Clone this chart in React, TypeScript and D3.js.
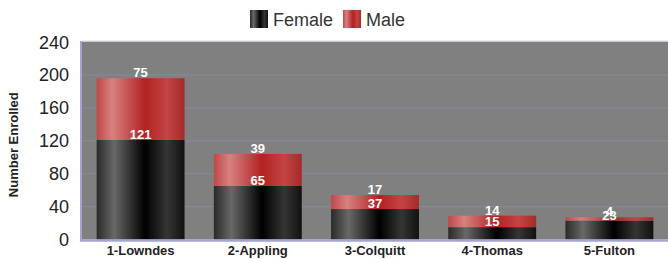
import React from "react";
import * as d3 from "d3";

const categories = ["1-Lowndes", "2-Appling", "3-Colquitt", "4-Thomas", "5-Fulton"];
const female = [121, 65, 37, 15, 23];
const male = [75, 39, 17, 14, 4];
const yTicks = [0, 40, 80, 120, 160, 200, 240];

export default function App() {
  const W = 668, H = 259;
  const left = 82, right = 668, top = 42, bottom = 239.5;
  const x = d3.scaleBand<string>().domain(categories).range([left, right]).paddingInner(0.25).paddingOuter(0.125);
  const y = d3.scaleLinear().domain([0, 240]).range([bottom, top]);
  const font = "Liberation Sans, Arial, sans-serif";
  return (
    <svg width={W} height={H} style={{ position: "absolute", left: 0, top: 0 }} fontFamily={font}>
      <defs>
        <linearGradient id="gF" x1="0" x2="1" y1="0" y2="0">
          <stop offset="0" stopColor="#2a2a2a" />
          <stop offset="0.2" stopColor="#686868" />
          <stop offset="0.55" stopColor="#000000" />
          <stop offset="0.8" stopColor="#353535" />
          <stop offset="1" stopColor="#111111" />
        </linearGradient>
        <linearGradient id="gM" x1="0" x2="1" y1="0" y2="0">
          <stop offset="0" stopColor="#c04848" />
          <stop offset="0.18" stopColor="#d88080" />
          <stop offset="0.55" stopColor="#b22222" />
          <stop offset="0.8" stopColor="#c44444" />
          <stop offset="1" stopColor="#a52a2a" />
        </linearGradient>
      </defs>
      <rect x={0} y={0} width={W} height={H} fill="#fff" />
      {/* legend */}
      <rect x={250} y={10} width={18} height={18} fill="url(#gF)" />
      <text x={273} y={26} fontSize={18} fill="#333">Female</text>
      <rect x={343} y={10} width={18} height={18} fill="url(#gM)" />
      <text x={366} y={26} fontSize={18} fill="#333">Male</text>
      {/* plot area */}
      <rect x={left} y={top - 1} width={right - left} height={bottom - top + 1} fill="#808080" />
      <line x1={left} x2={right} y1={top - 1} y2={top - 1} stroke="#e4e4ec" strokeWidth={1.5} />
      {yTicks.filter((t) => t > 0 && t < 240).map((t) => (
        <line key={t} x1={left} x2={right} y1={y(t)} y2={y(t)} stroke="#8a8a98" strokeWidth={1} />
      ))}
      {categories.map((c, i) => {
        const bx = x(c)!;
        const bw = x.bandwidth();
        const yf = y(female[i]);
        const yt = y(female[i] + male[i]);
        return (
          <g key={c}>
            <rect x={bx} y={yf} width={bw} height={bottom - yf} fill="url(#gF)" />
            <rect x={bx} y={yt} width={bw} height={yf - yt} fill="url(#gM)" />
            <text x={bx + bw / 2} y={yt - 1} textAnchor="middle" fontSize={13} fontWeight="bold" fill="#fff">{male[i]}</text>
            <text x={bx + bw / 2} y={yf - 1} textAnchor="middle" fontSize={13} fontWeight="bold" fill="#fff">{female[i]}</text>
            <text x={bx + bw / 2} y={255} textAnchor="middle" fontSize={13} fontWeight="bold" fill="#222">{c}</text>
          </g>
        );
      })}
      {/* axes */}
      <line x1={left - 1} x2={left - 1} y1={top - 1} y2={bottom + 1} stroke="#a4a4cc" strokeWidth={2} />
      <line x1={left - 2} x2={right} y1={bottom + 1} y2={bottom + 1} stroke="#a4a4cc" strokeWidth={2.5} />
      {yTicks.map((t) => (
        <text key={t} x={69} y={y(t) + 6.5} textAnchor="end" fontSize={18} fill="#222">{t}</text>
      ))}
      <text transform={`translate(18,${(top + bottom) / 2 + 4}) rotate(-90)`} textAnchor="middle" fontSize={13} fontWeight="bold" fill="#222">Number Enrolled</text>
    </svg>
  );
}
